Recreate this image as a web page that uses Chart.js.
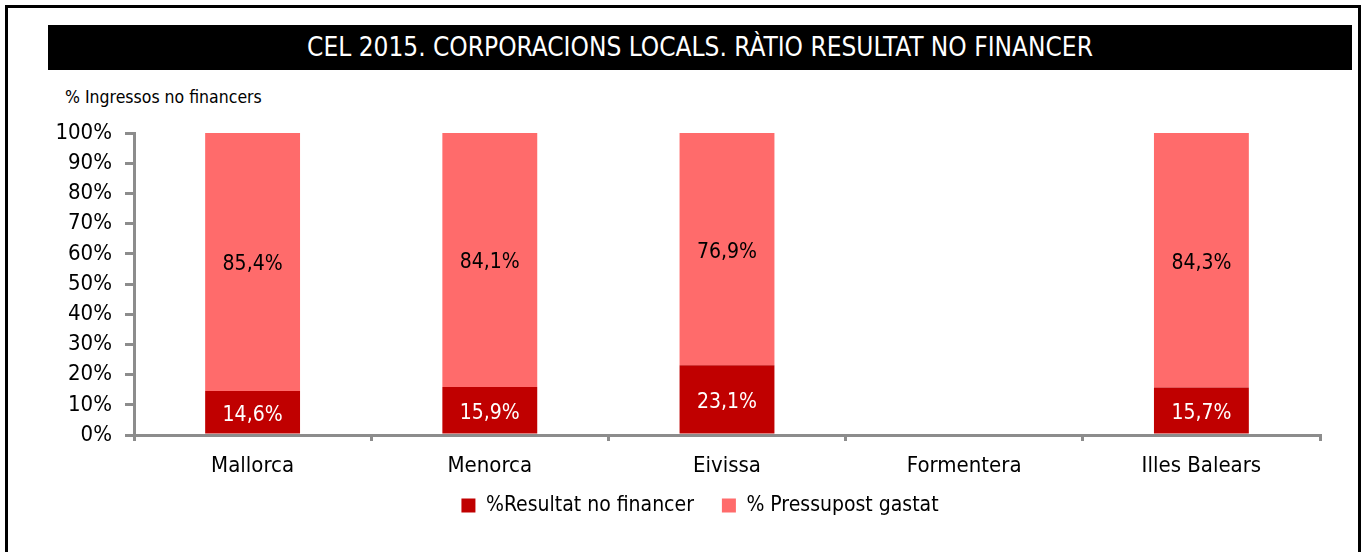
<!DOCTYPE html>
<html>
<head>
<meta charset="utf-8">
<script src="https://cdn.jsdelivr.net/npm/chart.js@4.4.1/dist/chart.umd.min.js"></script>
<style>
  html, body { margin: 0; padding: 0; background: #fff; }
  body { width: 1365px; height: 552px; position: relative; overflow: hidden;
         font-family: 'Liberation Sans Narrow', 'Arial Narrow', 'DejaVu Sans Condensed', sans-serif; }
  #frame { position: absolute; left: 5px; top: 5px; width: 1350px; height: 600px; border: 3px solid #000; box-sizing: content-box; }
  #titlebar { position: absolute; left: 48px; top: 25px; width: 1304px; height: 45px; background: #000; color: #fff;
              font-size: 26px; line-height: 45px; text-align: center; white-space: nowrap; }
  #ylabel { position: absolute; left: 65px; top: 87px; font-size: 17.5px; color: #000; white-space: nowrap; }
  #wrap { position: absolute; left: 0; top: 0; width: 1365px; height: 552px; }
</style>
</head>
<body>
<div id="frame"></div>
<div id="titlebar">CEL 2015. CORPORACIONS LOCALS. RÀTIO RESULTAT NO FINANCER</div>
<div id="ylabel">% Ingressos no financers</div>
<div id="wrap"><canvas id="c" width="1365" height="552"></canvas></div>
<script>
const categories = ['Mallorca', 'Menorca', 'Eivissa', 'Formentera', 'Illes Balears'];
const resultatNoFinancer = [14.6, 15.9, 23.1, null, 15.7];
const pressupostGastat = [85.4, 84.1, 76.9, null, 84.3];
const seriesNames = ['%Resultat no financer', '% Pressupost gastat'];

const FONT = "'Liberation Sans Narrow', 'Arial Narrow', 'DejaVu Sans Condensed', sans-serif";
const AXIS = '#8c8c8c';

const fmt = v => v.toFixed(1).replace('.', ',') + '%';

const valueLabels = {
  id: 'valueLabels',
  afterDatasetsDraw(chart) {
    const ctx = chart.ctx;
    ctx.save();
    ctx.font = '21px ' + FONT;
    ctx.textAlign = 'center';
    ctx.textBaseline = 'middle';
    chart.data.datasets.forEach((ds, di) => {
      const meta = chart.getDatasetMeta(di);
      meta.data.forEach((el, i) => {
        const v = ds.data[i];
        if (v === null || v === undefined) return;
        const p = el.getProps(['x', 'y', 'base'], true);
        ctx.fillStyle = di === 0 ? '#ffffff' : '#000000';
        ctx.fillText(fmt(v), p.x, (p.y + p.base) / 2 + 3);
      });
    });
    ctx.restore();
  }
};

// nudge the legend box: centred under the whole frame and closer to the axis labels
const legendNudge = {
  id: 'legendNudge',
  afterLayout(chart) {
    const lg = chart.legend;
    if (!lg) return;
    lg.left += 40; lg.right += 40;
    lg.top -= 12; lg.bottom -= 12;
  }
};

Chart.defaults.font.family = FONT;
Chart.defaults.color = '#000';

new Chart(document.getElementById('c'), {
  type: 'bar',
  data: {
    labels: categories,
    datasets: [
      { label: seriesNames[0], data: resultatNoFinancer, backgroundColor: '#c00000', borderWidth: 0,
        barPercentage: 0.4, categoryPercentage: 1.0 },
      { label: seriesNames[1], data: pressupostGastat, backgroundColor: '#ff6b6b', borderWidth: 0,
        barPercentage: 0.4, categoryPercentage: 1.0 }
    ]
  },
  options: {
    responsive: false,
    animation: false,
    layout: { padding: { left: 0, right: 45, top: 133, bottom: 14 } },
    plugins: {
      legend: {
        position: 'bottom',
        labels: { font: { size: 21 }, color: '#000', boxWidth: 14, boxHeight: 14, padding: 28 }
      },
      title: { display: false },
      tooltip: { enabled: false }
    },
    scales: {
      x: {
        stacked: true,
        offset: true,
        grid: { display: true, drawOnChartArea: false, drawTicks: true, tickLength: 6, color: AXIS, lineWidth: 3, offset: true },
        border: { display: true, color: AXIS, width: 3 },
        ticks: { font: { size: 22 }, color: '#000', padding: 12 },
        afterFit(s) { s.height = 44; }
      },
      y: {
        stacked: true,
        min: 0, max: 100,
        grid: { display: true, drawOnChartArea: false, drawTicks: true, tickLength: 9, color: AXIS, lineWidth: 3 },
        border: { display: true, color: AXIS, width: 3 },
        ticks: { stepSize: 10, font: { size: 22 }, color: '#000', padding: 13, callback: v => v + '%' },
        afterFit(s) { s.width = 134; }
      }
    }
  },
  plugins: [valueLabels, legendNudge]
});
</script>
</body>
</html>
